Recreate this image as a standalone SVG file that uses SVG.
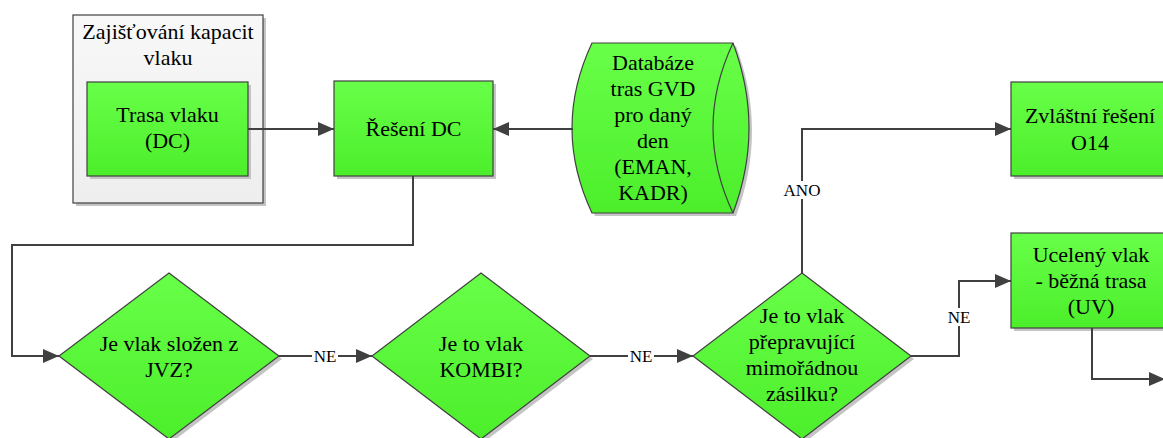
<svg xmlns="http://www.w3.org/2000/svg" width="1163" height="438" viewBox="0 0 1163 438" font-family="'Liberation Serif', 'Times New Roman', serif">
  <defs>
    <linearGradient id="green" x1="0" y1="0" x2="0" y2="1">
      <stop offset="0" stop-color="#68ff48"/>
      <stop offset="1" stop-color="#4cee2b"/>
    </linearGradient>
    <linearGradient id="grey" x1="0" y1="0" x2="0" y2="1">
      <stop offset="0" stop-color="#f8f8f8"/>
      <stop offset="1" stop-color="#eeeeee"/>
    </linearGradient>
    <marker id="arrow" markerUnits="userSpaceOnUse" markerWidth="16" markerHeight="14" refX="16" refY="7" orient="auto">
      <path d="M0,0 L16,7 L0,14 z" fill="#404040"/>
    </marker>
  </defs>
  <style>
    .node { fill: url(#green); stroke: #404040; stroke-width: 1.2; }
    .group { fill: url(#grey); stroke: #404040; stroke-width: 1.2; }
    .shadow { fill: #c4c4c4; }
    .line { fill: none; stroke: #404040; stroke-width: 2; }
    .arr { marker-end: url(#arrow); }
    text { font-family: 'Liberation Serif', 'Times New Roman', serif; fill: #000000; text-anchor: middle; }
    .t { font-size: 22px; }
    .lbl { font-size: 17px; }
    .lblbg { fill: #ffffff; }
  </style>

  <!-- container: capacity allocation -->
  <g id="group-kapacity">
    <rect class="shadow" x="76" y="18" width="190" height="188"/>
    <rect class="group" x="73" y="15" width="190" height="188"/>
    <text class="t" x="168" y="39">Zajišťování kapacit</text>
    <text class="t" x="168" y="65">vlaku</text>
  </g>

  <g id="node-trasa">
    <rect class="shadow" x="90" y="85" width="161" height="94"/>
    <rect class="node" x="87" y="82" width="161" height="94"/>
    <text class="t" x="167.5" y="122">Trasa vlaku</text>
    <text class="t" x="167.5" y="148">(DC)</text>
  </g>

  <g id="node-reseni">
    <rect class="shadow" x="337" y="84" width="159" height="95"/>
    <rect class="node" x="334" y="81" width="159" height="95"/>
    <text class="t" x="413.5" y="136">Řešení DC</text>
  </g>

  <!-- stored data shape -->
  <g id="node-databaze">
    <path class="shadow" d="M595,46 H736 Q768,131 736,216 H595 Q555,131 595,46 z"/>
    <path class="node" d="M592,43 H733 Q765,128 733,213 H592 Q552,128 592,43 z"/>
    <path fill="none" stroke="#404040" stroke-width="1.2" d="M733,43 Q693,128 733,213"/>
    <text class="t" x="653" y="70">Databáze</text>
    <text class="t" x="653" y="96">tras GVD</text>
    <text class="t" x="653" y="122">pro daný</text>
    <text class="t" x="653" y="148">den</text>
    <text class="t" x="653" y="174">(EMAN,</text>
    <text class="t" x="653" y="200">KADR)</text>
  </g>

  <g id="node-zvlastni">
    <rect class="shadow" x="1014" y="85" width="159" height="94"/>
    <rect class="node" x="1011" y="82" width="159" height="94"/>
    <text class="t" x="1090" y="123">Zvláštní řešení</text>
    <text class="t" x="1090" y="150">O14</text>
  </g>

  <g id="node-ucelenyvlak">
    <rect class="shadow" x="1014" y="236" width="159" height="95"/>
    <rect class="node" x="1011" y="233" width="159" height="95"/>
    <text class="t" x="1091" y="262">Ucelený vlak</text>
    <text class="t" x="1091" y="288">- běžná trasa</text>
    <text class="t" x="1091" y="314">(UV)</text>
  </g>

  <g id="node-jvz">
    <path class="shadow" d="M172,276 L282,359 L172,442 L62,359 z"/>
    <path class="node" d="M169,273 L279,356 L169,439 L59,356 z"/>
    <text class="t" x="169" y="351">Je vlak složen z</text>
    <text class="t" x="169" y="377">JVZ?</text>
  </g>

  <g id="node-kombi">
    <path class="shadow" d="M484,276 L593,359 L484,442 L375,359 z"/>
    <path class="node" d="M481,273 L590,356 L481,439 L372,356 z"/>
    <text class="t" x="481" y="351">Je to vlak</text>
    <text class="t" x="481" y="377">KOMBI?</text>
  </g>

  <g id="node-zasilka">
    <path class="shadow" d="M805,276 L914,359 L805,442 L696,359 z"/>
    <path class="node" d="M802,273 L911,356 L802,439 L693,356 z"/>
    <text class="t" x="802" y="323">Je to vlak</text>
    <text class="t" x="802" y="349">přepravující</text>
    <text class="t" x="802" y="375">mimořádnou</text>
    <text class="t" x="802" y="401">zásilku?</text>
  </g>

  <g id="connectors">
    <path class="line arr" d="M248,129 H334"/>
    <path class="line arr" d="M573,129 H493"/>
    <path class="line arr" d="M413,176 V245 H12 V356 H59"/>
    <path class="line arr" d="M279,356 H372"/>
    <path class="line arr" d="M590,356 H693"/>
    <path class="line arr" d="M802,273 V129 H1011"/>
    <path class="line arr" d="M911,356 H959 V281 H1011"/>
    <path class="line arr" d="M1092,328 V379 H1165"/>

    <rect class="lblbg" x="312" y="348" width="26" height="16"/>
    <text class="lbl" x="325" y="362">NE</text>
    <rect class="lblbg" x="628" y="348" width="26" height="16"/>
    <text class="lbl" x="641" y="362">NE</text>
    <rect class="lblbg" x="782" y="181" width="40" height="18"/>
    <text class="lbl" x="802" y="196">ANO</text>
    <rect class="lblbg" x="946" y="308" width="26" height="18"/>
    <text class="lbl" x="959" y="323">NE</text>
  </g>
</svg>
